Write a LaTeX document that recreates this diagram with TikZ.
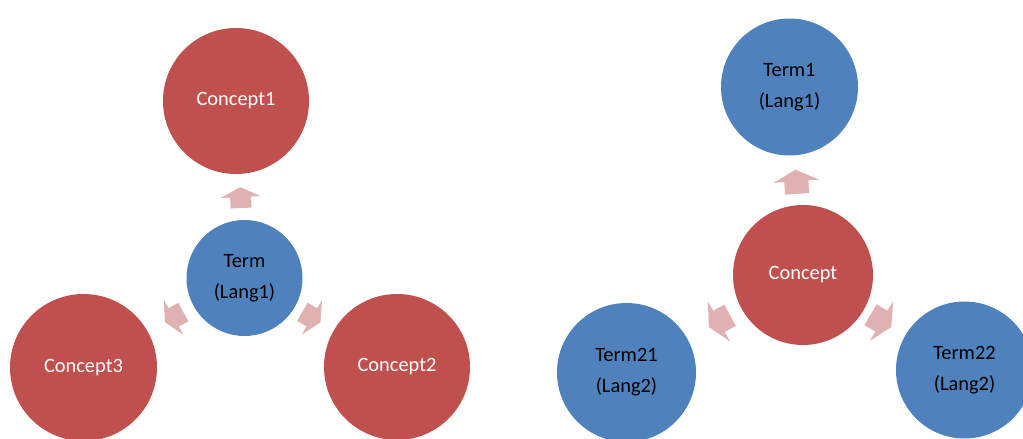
\documentclass[tikz,border=0pt]{standalone}
\usepackage{fontspec}
\setmainfont{Carlito}
\usetikzlibrary{calc}

\definecolor{conceptred}{RGB}{192,80,77}
\definecolor{termblue}{RGB}{79,129,189}
\definecolor{flowpink}{RGB}{223,178,177}

% block arrow placed on the line from #2 towards #3, at distance #4 from #2
\newcommand\flowarrow[4][1]{%
  \path let \p1=($(#3)-(#2)$), \n1={atan2(\y1,\x1)} in
    ($(#2)!#4!(#3)$) pic[rotate=\n1, scale=#1] {blockarrow};}

\begin{document}
\begin{tikzpicture}[x=1pt,y=1pt,
  bubble/.style={circle, inner sep=0pt, align=center,
                 font=\fontsize{20.4}{31}\selectfont},
  concept/.style={bubble, fill=conceptred, text=white},
  term/.style={bubble, fill=termblue, text=black},
  blockarrow/.pic={\fill[flowpink] (-11,-10.5) -- (0,-10.5) -- (0,-20)
                   -- (10,0) -- (0,20) -- (0,10.5) -- (-11,10.5) -- cycle;}]
\useasboundingbox (0,0) rectangle (1023,439);
\clip (0,0) rectangle (1023,439);

% one term, three concepts
\node[term, minimum size=116pt]    (term)  at (244.5,161) {Term\\(Lang1)};
\node[concept, minimum size=146pt] (cone)  at (236,338)   {Concept1};
\node[concept, minimum size=147pt] (cthree) at (83.5,71.5) {Concept3};
\node[concept, minimum size=146pt] (ctwo)  at (397,72)    {Concept2};

\flowarrow{term}{cone}{81pt}
\flowarrow{term}{cthree}{81pt}
\flowarrow{term}{ctwo}{78pt}

% one concept, three terms
\node[concept, minimum size=140pt] (concept) at (803,164)    {Concept};
\node[term, minimum size=137pt]    (tone)    at (789.5,352)  {Term1\\(Lang1)};
\node[term, minimum size=139pt]    (ttwoone) at (626.5,66.5) {Term21\\(Lang2)};
\node[term, minimum size=137pt]    (ttwotwo) at (964.5,69)   {Term22\\(Lang2)};

\flowarrow[1.15]{concept}{tone}{94pt}
\flowarrow[1.15]{concept}{ttwoone}{96pt}
\flowarrow[1.15]{concept}{ttwotwo}{91pt}
\end{tikzpicture}
\end{document}
